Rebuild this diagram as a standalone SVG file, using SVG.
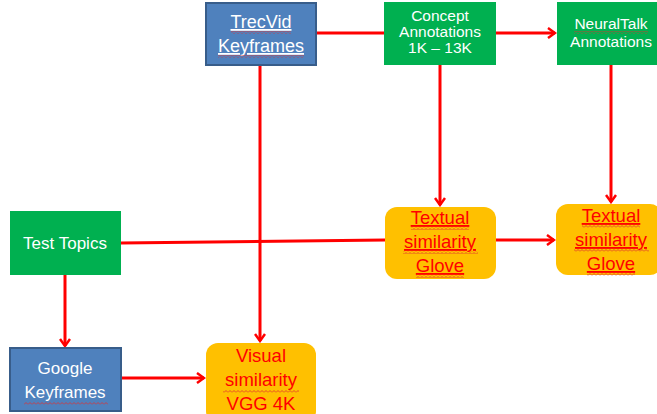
<svg xmlns="http://www.w3.org/2000/svg" width="657" height="414" viewBox="0 0 657 414">
<style>
.blue{fill:#4F81BD;stroke:#385D8A;stroke-width:2}
.green{fill:#00B050}
.orange{fill:#FFC000}
.t{font-family:"Liberation Sans","DejaVu Sans",sans-serif;text-anchor:middle}
.w{fill:#ffffff}
.r{fill:#FF0000}
.u{text-decoration:underline}
.c{stroke:#FF0000;stroke-width:3;fill:none}
.sq{fill:url(#sq)}
</style>
<defs>
<marker id="ah" markerWidth="10" markerHeight="12" refX="8" refY="6" orient="auto" markerUnits="userSpaceOnUse">
<path d="M1,1 L8,6 L1,11" fill="none" stroke="#FF0000" stroke-width="2.5"/>
</marker>
<pattern id="sq" width="4" height="3" patternUnits="userSpaceOnUse">
<path d="M0,2.5 L2,0.5 L4,2.5" fill="none" stroke="#E03030" stroke-width="0.8"/>
</pattern>
</defs>
<rect width="657" height="414" fill="#ffffff"/>
<g id="connectors">
<line class="c" x1="316" y1="33" x2="384" y2="33"/>
<line class="c" x1="496" y1="33" x2="555" y2="33" marker-end="url(#ah)"/>
<line class="c" x1="440" y1="65" x2="440" y2="205" marker-end="url(#ah)"/>
<line class="c" x1="611" y1="65" x2="611" y2="202" marker-end="url(#ah)"/>
<line class="c" x1="260" y1="65" x2="260" y2="341" marker-end="url(#ah)"/>
<line class="c" x1="121" y1="243" x2="385" y2="240"/>
<line class="c" x1="496" y1="240" x2="554" y2="240" marker-end="url(#ah)"/>
<line class="c" x1="65" y1="275" x2="65" y2="346" marker-end="url(#ah)"/>
<line class="c" x1="121" y1="378" x2="204" y2="378" marker-end="url(#ah)"/>
</g>
<g id="trecvid">
<rect class="blue" x="206" y="3" width="110" height="62"/>
<text class="t w u" x="261" y="28" font-size="18">TrecVid</text>
<text class="t w u" x="261" y="52" font-size="18">Keyframes</text>
<rect class="sq" x="231" y="31" width="60" height="3"/>
<rect class="sq" x="218" y="55" width="86" height="3"/>
</g>
<g id="concept">
<rect class="green" x="384" y="2" width="112" height="63"/>
<text class="t w" x="440" y="21" font-size="15.5">Concept</text>
<text class="t w" x="440" y="37" font-size="15.5">Annotations</text>
<text class="t w" x="440" y="53" font-size="15.5">1K – 13K</text>
</g>
<g id="neuraltalk">
<rect class="green" x="557" y="2" width="102" height="63"/>
<text class="t w" x="611" y="29" font-size="15.5">NeuralTalk</text>
<text class="t w" x="611" y="47" font-size="15.5">Annotations</text>
<rect class="sq" x="574" y="31" width="74" height="3"/>
</g>
<g id="testtopics">
<rect class="green" x="10" y="211" width="111" height="64"/>
<text class="t w" x="65" y="249" font-size="17">Test Topics</text>
</g>
<g id="textual1">
<rect class="orange" x="385" y="207" width="111" height="72" rx="12"/>
<text class="t r u" x="440" y="224" font-size="18.5">Textual</text>
<text class="t r u" x="440" y="248" font-size="18.5">similarity</text>
<text class="t r u" x="440" y="272" font-size="18.5">Glove</text>
<rect class="sq" x="411" y="227" width="58" height="3"/>
<rect class="sq" x="403" y="251" width="75" height="3"/>
<rect class="sq" x="416" y="275" width="48" height="3"/>
</g>
<g id="textual2">
<rect class="orange" x="556" y="204" width="106" height="71" rx="12"/>
<text class="t r u" x="611" y="222" font-size="18.5">Textual</text>
<text class="t r u" x="611" y="246" font-size="18.5">similarity</text>
<text class="t r u" x="611" y="270" font-size="18.5">Glove</text>
<rect class="sq" x="582" y="225" width="58" height="3"/>
<rect class="sq" x="574" y="249" width="75" height="3"/>
<rect class="sq" x="587" y="273" width="48" height="3"/>
</g>
<g id="google">
<rect class="blue" x="10" y="348" width="111" height="63"/>
<text class="t w" x="65" y="374" font-size="17">Google</text>
<text class="t w" x="65" y="398" font-size="17">Keyframes</text>
<rect class="sq" x="24" y="402" width="84" height="3"/>
</g>
<g id="visual">
<rect class="orange" x="206" y="343" width="110" height="80" rx="12"/>
<text class="t r" x="261" y="362" font-size="18.5">Visual</text>
<text class="t r" x="261" y="386" font-size="18.5">similarity</text>
<text class="t r" x="261" y="410" font-size="18.5">VGG 4K</text>
<rect class="sq" x="223" y="390" width="76" height="3"/>
</g>
</svg>
